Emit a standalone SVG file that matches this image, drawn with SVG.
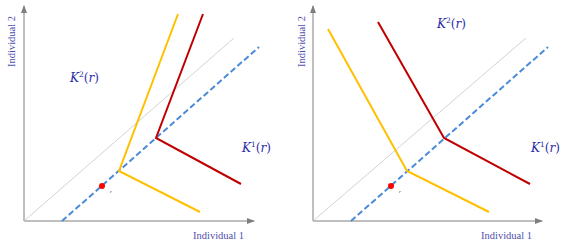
<svg xmlns="http://www.w3.org/2000/svg" width="581" height="250" viewBox="0 0 581 250">
<defs>
<marker id="ah" markerWidth="8" markerHeight="6" refX="7" refY="3" orient="auto" markerUnits="userSpaceOnUse">
<path d="M0,0 L8,3 L0,6 Z" fill="#7f7f7f"/>
</marker>
<style>
.axis{stroke:#7f7f7f;stroke-width:1;fill:none}
.diag{stroke:#c8c8c8;stroke-width:0.8;fill:none}
.dash{stroke:#4a8ad8;stroke-width:2;stroke-dasharray:6,3;fill:none}
.yel{stroke:#ffc000;stroke-width:2;fill:none}
.red{stroke:#c00000;stroke-width:2;fill:none}
.ax{font-family:"Liberation Serif",serif;font-size:10.5px;fill:#5050b0}
.k{font-family:"DejaVu Serif","Liberation Serif",serif;font-size:12px;fill:#2a2aa8}
.i{font-style:italic}
.sup{font-size:7.5px}
.kr{font-family:"Liberation Serif",serif;font-style:italic;font-size:5px;fill:#333}
</style>
</defs>
<g id="left-panel">
<g id="left-connectors">
<line class="axis" x1="24" y1="221" x2="24" y2="6" marker-end="url(#ah)"/>
<line class="axis" x1="24" y1="221" x2="254" y2="221" marker-end="url(#ah)"/>
<line class="diag" x1="24" y1="221" x2="234" y2="38"/>
<line class="dash" x1="62" y1="221" x2="259" y2="47"/>
<polyline class="yel" points="178,14 119,171 200,212"/>
<polyline class="red" points="203,14 156,138 241,184"/>
</g>
<g id="left-point"><circle cx="102" cy="186" r="3" fill="#ff0000"/><text class="kr" x="110" y="193">r</text></g>
<g id="left-labels">
<text class="k" x="70" y="82"><tspan class="i">K</tspan><tspan class="sup" dy="-5">2</tspan><tspan dy="5">(</tspan><tspan class="i">r</tspan>)</text>
<text class="k" x="242" y="152"><tspan class="i">K</tspan><tspan class="sup" dy="-5">1</tspan><tspan dy="5">(</tspan><tspan class="i">r</tspan>)</text>
<text class="ax" x="193" y="239">Individual 1</text>
<text class="ax" transform="translate(15,67) rotate(-90)">Individual 2</text>
</g>
</g>
<g id="right-panel">
<g id="right-connectors">
<line class="axis" x1="313" y1="221" x2="313" y2="6" marker-end="url(#ah)"/>
<line class="axis" x1="313" y1="221" x2="542" y2="221" marker-end="url(#ah)"/>
<line class="diag" x1="313" y1="221" x2="526" y2="38"/>
<line class="dash" x1="351" y1="221" x2="548" y2="47"/>
<polyline class="yel" points="328,29 407,171 489,212"/>
<polyline class="red" points="378,22 444,138 530,184"/>
</g>
<g id="right-point"><circle cx="391" cy="186" r="3" fill="#ff0000"/><text class="kr" x="399" y="193">r</text></g>
<g id="right-labels">
<text class="k" x="437" y="28"><tspan class="i">K</tspan><tspan class="sup" dy="-5">2</tspan><tspan dy="5">(</tspan><tspan class="i">r</tspan>)</text>
<text class="k" x="531" y="152"><tspan class="i">K</tspan><tspan class="sup" dy="-5">1</tspan><tspan dy="5">(</tspan><tspan class="i">r</tspan>)</text>
<text class="ax" x="481" y="239">Individual 1</text>
<text class="ax" transform="translate(305,67) rotate(-90)">Individual 2</text>
</g>
</g>
</svg>
